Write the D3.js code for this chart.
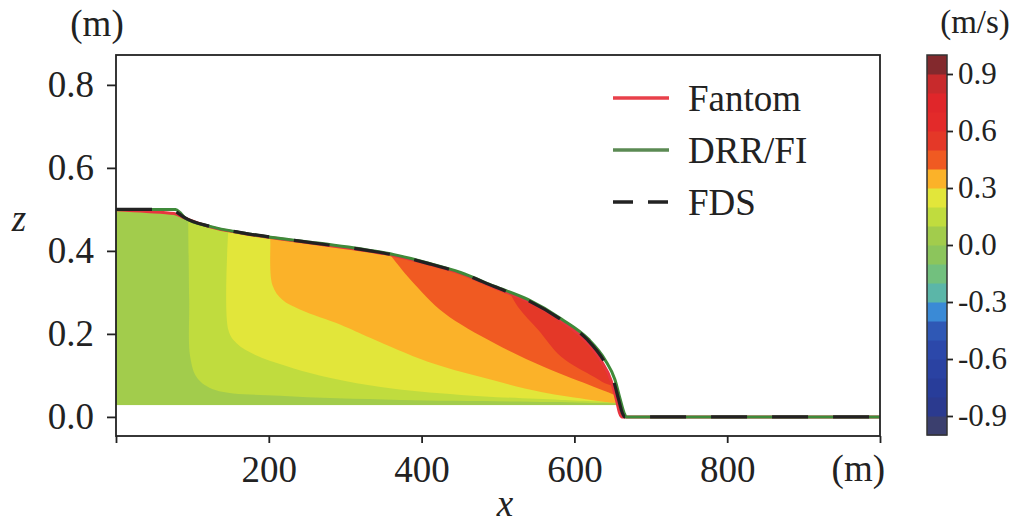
<!DOCTYPE html>
<html lang="en">
<head>
  <meta charset="UTF-8" />
  <title>Free surface profile and velocity</title>
  <script src="https://d3js.org/d3.v7.min.js"></script>
  <style>
    body, html {
      margin: 0;
      padding: 0;
      background: #fff;
    }
    #chart {
      display: block;
    }
    text {
      font-family: "Liberation Serif", "DejaVu Serif", serif;
      fill: #222;
    }
  </style>
</head>
<body>
  <svg id="chart" width="1021" height="524"></svg>
  <script>
    // Axis ticks
    const xTicks = [0, 200, 400, 600, 800, 1000];
    const xTickLabels = ['', '200', '400', '600', '800', ''];
    const zTicks = [0.0, 0.2, 0.4, 0.6, 0.8];

    // Colour bar (m/s), 20 levels from -1 to 1
    const cbarTicks = [-0.9, -0.6, -0.3, 0.0, 0.3, 0.6, 0.9];
    const cbarLevels = [-1.0, -0.9, -0.8, -0.7, -0.6, -0.5, -0.4, -0.3, -0.2, -0.1,
                        0.0, 0.1, 0.2, 0.3, 0.4, 0.5, 0.6, 0.7, 0.8, 0.9];
    const cbarColors = ['#3b3f6e', '#2b3a8f', '#283d9a', '#2a42a2', '#2c48aa',
                        '#2f58b5', '#3a8ad6', '#5bb6a8', '#72c07e', '#8cc55c',
                        '#a2cc4c', '#c0dc3e', '#e2e63a', '#fbb229', '#f05a22',
                        '#e43828', '#e32a2a', '#e0262a', '#c82a2c', '#83292d'];

    // Free surface profiles [x (m), z (m)]
    const fantom = [[0, 0.499], [40, 0.495], [76, 0.49], [90, 0.479], [123, 0.458],
      [167, 0.442], [211, 0.430], [255, 0.419], [333, 0.399], [364, 0.389],
      [408, 0.369], [451, 0.346], [495, 0.312], [539, 0.279], [583, 0.231],
      [615, 0.183], [635, 0.135], [648, 0.088], [655, 0.041], [659, 0.01],
      [662, 0], [1000, 0]];
    const drrfi = [[0, 0.5], [78, 0.5], [84, 0.492], [90, 0.48], [123, 0.459],
      [167, 0.443], [211, 0.431], [255, 0.421], [333, 0.401], [364, 0.391],
      [408, 0.371], [451, 0.348], [495, 0.315], [539, 0.283], [583, 0.236],
      [618, 0.188], [640, 0.138], [653, 0.09], [660, 0.042], [665, 0.01],
      [668, 0], [1000, 0]];
    const fds = [[0, 0.5], [72, 0.5], [82, 0.49], [90, 0.48], [123, 0.459],
      [167, 0.443], [211, 0.431], [255, 0.420], [333, 0.400], [364, 0.390],
      [408, 0.370], [451, 0.347], [495, 0.314], [539, 0.281], [583, 0.234],
      [617, 0.186], [638, 0.137], [651, 0.089], [658, 0.041], [663, 0.008],
      [666, 0], [1000, 0]];

    // Bottom of the coloured velocity field (m)
    const fieldBottom = 0.028;
    const fieldBase = 0.05;   // velocity of the band under all contours

    // Velocity contour boundaries [x (m), z (m)], each from the surface down to the bed
    const contourLevels = [0.1, 0.2, 0.3, 0.4, 0.5];
    const iso01 = [[94.5, 0.48], [95.8, 0.282], [97.1, 0.145], [106.3, 0.094], [129.9, 0.065],
      [215.2, 0.051], [372.7, 0.041], [569.6, 0.036], [687.7, 0.031]];
    const iso02 = [[147, 0.45], [147, 0.21], [157.5, 0.178], [182.4, 0.149], [221.8, 0.123],
      [267.7, 0.099], [346.5, 0.072], [451.4, 0.053], [582.7, 0.041], [654.9, 0.036]];
    const iso03 = [[202, 0.43], [202, 0.419], [204.7, 0.318], [217.8, 0.282], [241.5, 0.258],
      [294, 0.222], [333.3, 0.19], [408.1, 0.133], [477.7, 0.096], [556.4, 0.06],
      [622, 0.041], [651, 0.034]];
    const iso04 = [[357, 0.395], [359, 0.39], [385.8, 0.33], [429.1, 0.251], [494.8, 0.178],
      [560.4, 0.12], [626, 0.072], [645.7, 0.058], [654.9, 0.051]];
    const iso05 = [[504, 0.33], [507.9, 0.323], [526.2, 0.265], [552.5, 0.21], [582.7, 0.145],
      [626, 0.096], [639.1, 0.082], [651, 0.075]];
    const contourLines = [iso01, iso02, iso03, iso04, iso05];

    // Legend
    const legendNames = ['Fantom', 'DRR/FI', 'FDS'];

    const svg = d3.select('#chart');

    // Plot frame
    const plot = { left: 116, right: 880, top: 55, bottom: 436 };

    const x = d3.scaleLinear().domain([0, 1000]).range([plot.left, plot.right]);
    const z = d3.scaleLinear().domain([-0.046, 0.872]).range([plot.bottom, plot.top]);

    const color = d3.scaleQuantize().domain([-1, 1]).range(cbarColors);

    // Clip: the water body below the Fantom surface, above the field bottom
    const fieldArea = d3.area()
      .curve(d3.curveMonotoneX)
      .x(d => x(d[0]))
      .y0(z(fieldBottom))
      .y1(d => z(Math.max(d[1], fieldBottom)));

    const defs = svg.append('defs');
    defs.append('clipPath').attr('id', 'field')
      .append('path').attr('d', fieldArea(fantom));

    const field = svg.append('g').attr('clip-path', 'url(#field)');

    field.append('rect')
      .attr('x', x(0)).attr('y', z(0.6))
      .attr('width', x(1000) - x(0)).attr('height', z(fieldBottom) - z(0.6))
      .attr('fill', color(fieldBase));

    // smooth contour boundary, closed round the faster (upper right) side
    const isoCurve = d3.line().curve(d3.curveCatmullRom.alpha(0.5))
      .x(d => x(d[0])).y(d => z(d[1]));

    contourLines.forEach((pts, i) => {
      const first = pts[0], last = pts[pts.length - 1];
      const d = `M${x(first[0])},${z(0.8)}L` + isoCurve(pts).slice(1) +
        `L${x(1000)},${z(last[1])}L${x(1000)},${z(0.8)}Z`;
      field.append('path')
        .attr('d', d)
        .attr('fill', color(contourLevels[i] + 0.05));
    });

    // Surface lines
    const surf = d3.line().curve(d3.curveMonotoneX).x(d => x(d[0])).y(d => z(d[1]));
    svg.append('path').datum(fantom).attr('d', surf)
      .attr('fill', 'none').attr('stroke', '#e8343f').attr('stroke-width', 3);
    svg.append('path').datum(drrfi).attr('d', surf)
      .attr('fill', 'none').attr('stroke', '#3f8a3a').attr('stroke-width', 3);
    svg.append('path').datum(fds).attr('d', surf)
      .attr('fill', 'none').attr('stroke', '#222').attr('stroke-width', 3.2)
      .attr('stroke-dasharray', '36,25');

    // Frame
    svg.append('rect')
      .attr('x', plot.left).attr('y', plot.top)
      .attr('width', plot.right - plot.left).attr('height', plot.bottom - plot.top)
      .attr('fill', 'none').attr('stroke', '#222').attr('stroke-width', 1.8);

    // Axes
    const xAxis = svg.append('g')
      .attr('transform', `translate(0,${plot.bottom})`)
      .call(d3.axisBottom(x).tickValues(xTicks).tickSize(7).tickPadding(13)
        .tickFormat((d, i) => xTickLabels[i]));
    const zAxis = svg.append('g')
      .attr('transform', `translate(${plot.left},0)`)
      .call(d3.axisLeft(z).tickValues(zTicks).tickSize(9).tickPadding(13)
        .tickFormat(d => d.toFixed(1)));

    [xAxis, zAxis].forEach(a => {
      a.select('.domain').remove();
      a.selectAll('line').attr('stroke', '#222').attr('stroke-width', 1.8);
      a.selectAll('text').style('font-size', '37px').attr('fill', '#222');
    });

    // Units and axis titles
    svg.append('text').attr('x', 97).attr('y', 36).attr('text-anchor', 'middle')
      .style('font-size', '37px').text('(m)');
    svg.append('text').attr('x', 885).attr('y', 481).attr('text-anchor', 'end')
      .style('font-size', '37px').text('(m)');
    svg.append('text').attr('x', 505).attr('y', 516).attr('text-anchor', 'middle')
      .style('font-size', '37px').style('font-style', 'italic').text('x');
    svg.append('text').attr('x', 19).attr('y', 231).attr('text-anchor', 'middle')
      .style('font-size', '37px').style('font-style', 'italic').text('z');

    // Legend
    const legendColors = ['#e8404a', '#5b8a53', '#222'];
    const legendDash = [null, null, '20,15'];
    const legend = svg.append('g');
    legendNames.forEach((name, i) => {
      const ly = 98 + i * 52;
      legend.append('line')
        .attr('x1', 613).attr('x2', 669).attr('y1', ly).attr('y2', ly)
        .attr('stroke', legendColors[i]).attr('stroke-width', 3.5)
        .attr('stroke-dasharray', legendDash[i]);
      legend.append('text')
        .attr('x', 688).attr('y', ly + 13)
        .style('font-size', '37px').text(name);
    });

    // Colour bar
    const cb = { left: 927, right: 947, top: 55, bottom: 435 };
    const cz = d3.scaleLinear().domain([-1, 1]).range([cb.bottom, cb.top]);

    svg.append('g').selectAll('rect')
      .data(cbarLevels)
      .enter().append('rect')
      .attr('x', cb.left)
      .attr('y', d => cz(d + 0.1))
      .attr('width', cb.right - cb.left)
      .attr('height', d => cz(d) - cz(d + 0.1) + 0.5)
      .attr('fill', (d, i) => cbarColors[i]);

    svg.append('rect')
      .attr('x', cb.left).attr('y', cb.top)
      .attr('width', cb.right - cb.left).attr('height', cb.bottom - cb.top)
      .attr('fill', 'none').attr('stroke', '#333').attr('stroke-width', 1.5);

    const cAxis = svg.append('g')
      .attr('transform', `translate(${cb.right},0)`)
      .call(d3.axisRight(cz).tickValues(cbarTicks).tickSize(6).tickPadding(5)
        .tickFormat(d => d.toFixed(1)));
    cAxis.select('.domain').remove();
    cAxis.selectAll('line').attr('stroke', '#222').attr('stroke-width', 1.8);
    cAxis.selectAll('text').style('font-size', '31px').attr('fill', '#222');

    svg.append('text').attr('x', 975).attr('y', 33).attr('text-anchor', 'middle')
      .style('font-size', '33px').text('(m/s)');
  </script>
</body>
</html>
